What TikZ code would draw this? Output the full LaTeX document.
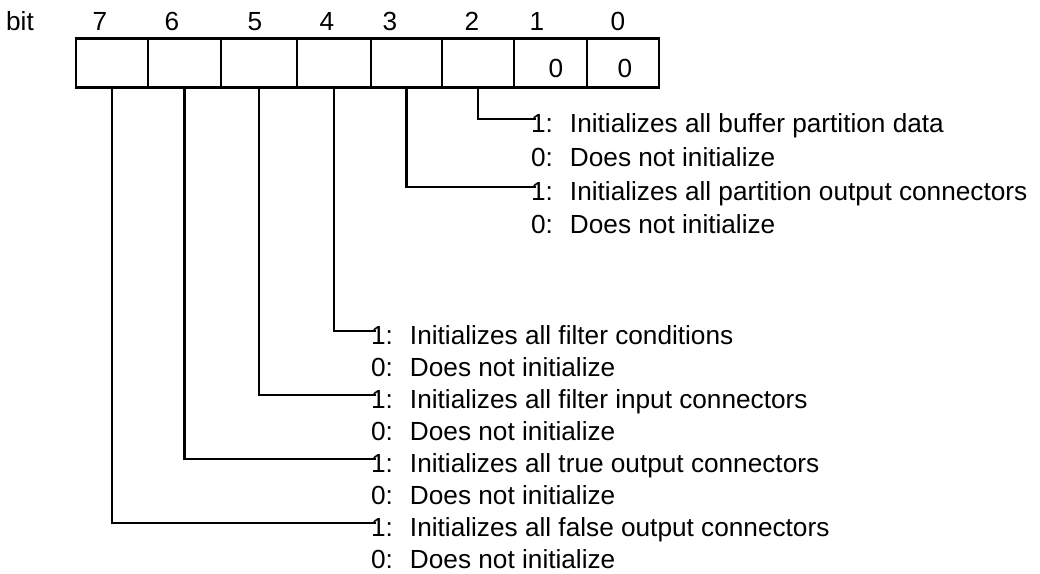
\documentclass[tikz,border=0pt]{standalone}
\usepackage{fontspec}
\setmainfont{Liberation Sans}
\begin{document}
\begin{tikzpicture}[x=1pt,y=-1pt,
  every node/.style={inner sep=0pt,outer sep=0pt,font=\fontsize{26.2}{30}\selectfont},
  bitcell/.style={draw,line width=2.6pt,minimum height=49pt},
  bitnum/.style={anchor=base},
  desc/.style={anchor=base west},
  wire/.style={line width=2.6pt}]
\useasboundingbox (0,0) rectangle (1040,573);
\fill[white] (0,0) rectangle (1040,573);

% register cells, bit 7 on the left
\node[bitcell,minimum width=72pt] (b7) at (112,63) {};
\node[bitcell,minimum width=73pt] (b6) at (184.5,63) {};
\node[bitcell,minimum width=76pt] (b5) at (259,63) {};
\node[bitcell,minimum width=74pt] (b4) at (334,63) {};
\node[bitcell,minimum width=71pt] (b3) at (406.5,63) {};
\node[bitcell,minimum width=72pt] (b2) at (478,63) {};
\node[bitcell,minimum width=73pt] (b1) at (550.5,63) {};
\node[bitcell,minimum width=72pt] (b0) at (623,63) {};

% fixed values
\node[bitnum] (v1) at (556,77) {0};
\node[bitnum] (v0) at (625,77) {0};

% bit numbers
\node[bitnum] (lbit) at (20,30) {bit};
\node[bitnum] (n7) at (100,30) {7};
\node[bitnum] (n6) at (172,30) {6};
\node[bitnum] (n5) at (255,30) {5};
\node[bitnum] (n4) at (327,30) {4};
\node[bitnum] (n3) at (390,30) {3};
\node[bitnum] (n2) at (472,30) {2};
\node[bitnum] (n1) at (537,30) {1};
\node[bitnum] (n0) at (618,30) {0};

% descriptions of bits 2 and 3
\node[desc] (t2a) at (531,132) {\makebox[39pt][l]{1:}Initializes all buffer partition data};
\node[desc] (t2b) at (531,166) {\makebox[39pt][l]{0:}Does not initialize};
\node[desc] (t3a) at (531,200) {\makebox[39pt][l]{1:}Initializes all partition output connectors};
\node[desc] (t3b) at (531,233) {\makebox[39pt][l]{0:}Does not initialize};

% descriptions of bits 4 to 7
\node[desc] (t4a) at (371,344) {\makebox[39pt][l]{1:}Initializes all filter conditions};
\node[desc] (t4b) at (371,376) {\makebox[39pt][l]{0:}Does not initialize};
\node[desc] (t5a) at (371,408) {\makebox[39pt][l]{1:}Initializes all filter input connectors};
\node[desc] (t5b) at (371,440) {\makebox[39pt][l]{0:}Does not initialize};
\node[desc] (t6a) at (371,472) {\makebox[39pt][l]{1:}Initializes all true output connectors};
\node[desc] (t6b) at (371,504) {\makebox[39pt][l]{0:}Does not initialize};
\node[desc] (t7a) at (371,536) {\makebox[39pt][l]{1:}Initializes all false output connectors};
\node[desc] (t7b) at (371,568) {\makebox[39pt][l]{0:}Does not initialize};

% leader lines from each cell to its description
\draw[wire] (b2.south) |- ([shift={(5,-13)}]t2a.base west);
\draw[wire] (b3.south) |- ([shift={(5,-13)}]t3a.base west);
\draw[wire] (b4.south) |- ([shift={(5,-13)}]t4a.base west);
\draw[wire] (b5.south) |- ([shift={(5,-13)}]t5a.base west);
\draw[wire] (b6.south) |- ([shift={(5,-13)}]t6a.base west);
\draw[wire] (b7.south) |- ([shift={(5,-13)}]t7a.base west);
\end{tikzpicture}
\end{document}
